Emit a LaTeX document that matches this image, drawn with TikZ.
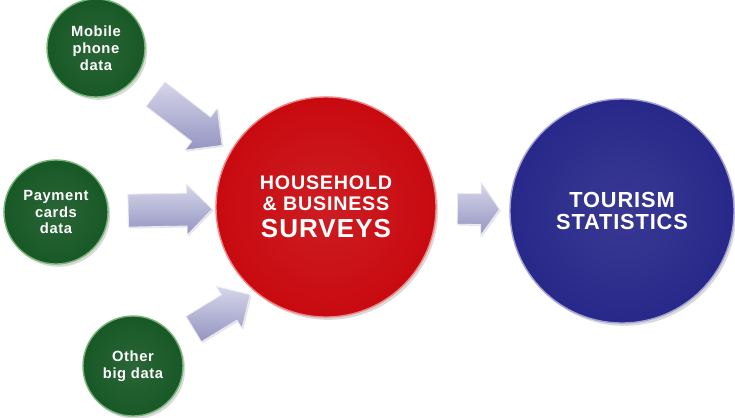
\documentclass[tikz,border=0pt]{standalone}
\usepackage{fontspec}
\setmainfont{Liberation Sans}
\newfontfamily\breit[LetterSpace=4]{Liberation Sans}
\usetikzlibrary{shapes.arrows,shadows}

\definecolor{gruen}{RGB}{24,88,38}
\definecolor{gruenrand}{RGB}{120,180,120}
\definecolor{rot}{RGB}{200,10,16}
\definecolor{rotrand}{RGB}{240,130,130}
\definecolor{blau}{RGB}{40,40,138}
\definecolor{blaurand}{RGB}{160,160,215}
\definecolor{pfeilhell}{RGB}{214,214,234}
\definecolor{pfeildunkel}{RGB}{148,148,194}

\begin{document}
\begin{tikzpicture}[x=0.025cm,y=-0.025cm,
		kreis/.style={circle,minimum size=#1,inner sep=0pt,align=center,text=white,line width=1pt,
			drop shadow={opacity=0.3,shadow xshift=1.5pt,shadow yshift=-2pt}},
		quelle/.style={kreis=#1,inner color=gruen!92!white,outer color=gruen,draw=gruenrand,
			font=\breit\bfseries\fontsize{10.5}{12}\selectfont},
		pfeil/.style={single arrow,inner xsep=0pt,minimum width=0pt,
			top color=pfeilhell,bottom color=pfeildunkel,draw=white!80!pfeildunkel,line width=0.6pt,
			drop shadow={opacity=0.2,shadow xshift=1pt,shadow yshift=-1pt}}]
		
		\useasboundingbox (0,0) rectangle (735,417);
		
		%quellen
		\node[quelle=2.45cm] (mob) at (96,48)  {Mobile\\phone\\data};
		\node[quelle=2.6cm]  (pay) at (56,212) {Payment\\cards\\data};
		\node[quelle=2.5cm]  (oth) at (133,366) {Other\\big data};
		
		%erhebungen und ergebnis
		\node[kreis=5.5cm,inner color=rot!92!white,outer color=rot,draw=rotrand,
			font=\breit\bfseries\fontsize{14}{14.5}\selectfont] (hh) at (326,207)
		{HOUSEHOLD\\\& BUSINESS\\[5pt]{\fontsize{18.5}{19}\selectfont SURVEYS}};
		\node[kreis=5.6cm,inner color=blau!92!white,outer color=blau,draw=blaurand,
			font=\breit\bfseries\fontsize{15.5}{16}\selectfont] (tst) at (622,211)
		{TOURISM\\STATISTICS};
		
		%pfeile
		\path (mob) -- node[pfeil,sloped,minimum height=2.1cm,inner ysep=0.375cm,single arrow head extend=0.275cm] {} (hh.150);
		\path (pay) -- node[pfeil,sloped,minimum height=2.1cm,inner ysep=0.4cm,single arrow head extend=0.225cm] {} (hh);
		\path (oth) -- node[pfeil,sloped,minimum height=1.65cm,inner ysep=0.36cm,single arrow head extend=0.24cm] {} (hh.230);
		\path (hh) -- node[pfeil,sloped,minimum height=1.05cm,inner ysep=0.375cm,single arrow head extend=0.275cm,
			single arrow tip angle=110] {} (tst);
		
\end{tikzpicture}
\end{document}
